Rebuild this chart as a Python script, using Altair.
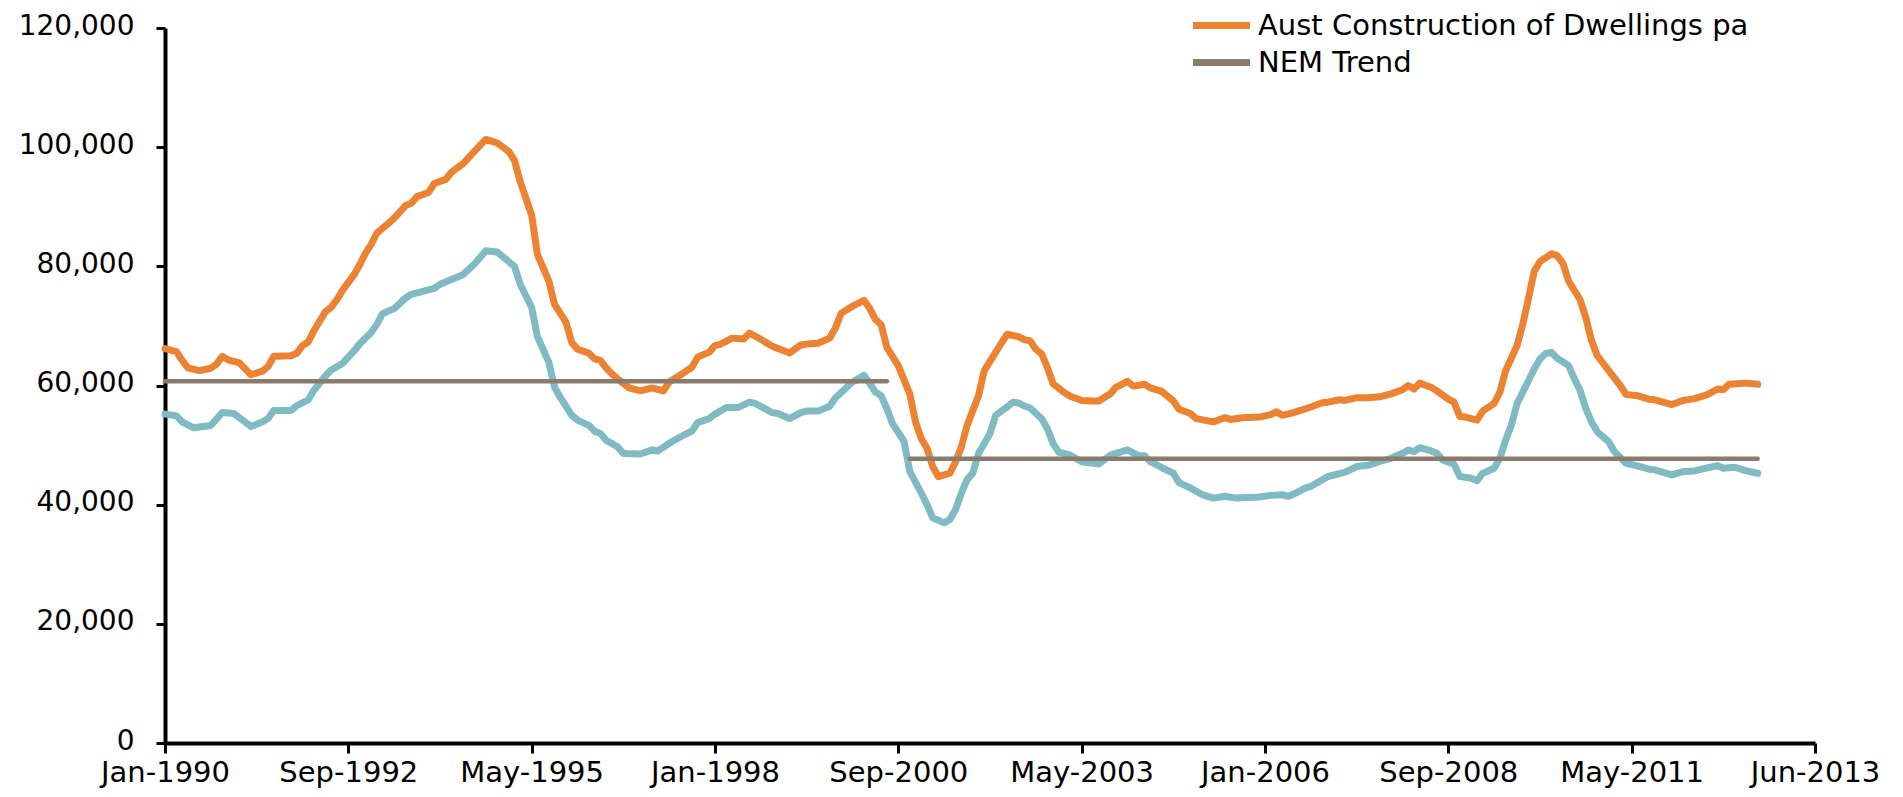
import altair as alt
import pandas as pd

# ---------------- data ----------------
SERIES_A = "Aust Construction of Dwellings pa"
SERIES_B = "Series 2"
SERIES_NEM = "NEM Trend"

TICK_MONTHS = [0, 32, 64, 96, 128, 160, 192, 224, 256, 288]
TICK_LABELS = ["Jan-1990", "Sep-1992", "May-1995", "Jan-1998", "Sep-2000",
               "May-2003", "Jan-2006", "Sep-2008", "May-2011", "Jun-2013"]

# month index (0 = Jan-1990)
ORANGE_MONTH = [0, 2, 3, 4, 6, 8, 9, 10, 11, 13, 14, 15, 17, 18, 19, 22, 23, 24, 25, 26,
                28, 29, 30, 31, 33, 34, 35, 36, 37, 39, 40, 42, 43, 44, 46, 47, 49, 50, 52, 54,
                56, 57, 58, 60, 61, 62, 64, 65, 67, 68, 70, 71, 72, 74, 75, 76, 77, 78, 79, 81,
                83, 85, 87, 88, 90, 92, 93, 95, 96, 97, 99, 101, 102, 103, 106, 107, 109, 111, 112, 114,
                116, 117, 118, 120, 122, 123, 124, 125, 126, 128, 130, 131, 132, 133, 134, 135, 137, 138, 139, 140,
                142, 143, 145, 146, 147, 149, 150, 151, 152, 153, 154, 155, 157, 158, 160, 162, 163, 165, 166, 168,
                169, 171, 172, 174, 175, 176, 177, 179, 180, 183, 185, 186, 188, 191, 193, 194, 195, 197, 200, 202,
                203, 205, 206, 208, 210, 212, 214, 216, 217, 218, 219, 221, 222, 224, 225, 226, 227, 229, 230, 232,
                233, 234, 236, 237, 238, 239, 240, 242, 243, 244, 245, 247, 248, 249, 250, 252, 254, 255, 257, 259,
                260, 263, 265, 267, 269, 271, 272, 273, 276, 278]
ORANGE_VALUE = [66200, 65700, 64200, 62950, 62500, 62900, 63600, 64900, 64300, 63800, 62800, 61800, 62400, 63200, 64900, 65000, 65400, 66700, 67300, 69200,
                72400, 73100, 74400, 76000, 78600, 80300, 82200, 83700, 85600, 87200, 88100, 90200, 90600, 91700, 92400, 93900, 94600, 95800, 97200, 99300,
                101300, 101000, 100700, 99300, 97800, 94200, 88600, 82000, 77500, 73600, 70600, 67200, 66100, 65400, 64450, 64200, 62950, 61950, 61100, 59600,
                59100, 59600, 59100, 60600, 61800, 63100, 64800, 65600, 66700, 66950, 67950, 67800, 68800, 68300, 66600, 66200, 65450, 66800, 66950, 67100,
                67950, 69600, 72100, 73300, 74300, 72950, 71100, 70200, 66400, 63300, 58600, 53900, 51100, 49450, 46400, 44700, 45300, 47200, 49700, 53300,
                58300, 62500, 65600, 67100, 68600, 68200, 67700, 67500, 66100, 65300, 63100, 60300, 58800, 58200, 57500, 57400, 57400, 58600, 59700, 60700,
                59900, 60200, 59600, 59000, 58200, 57400, 56000, 55300, 54450, 53900, 54600, 54300, 54600, 54700, 55100, 55600, 55000, 55450, 56400, 57100,
                57200, 57600, 57500, 57950, 57950, 58100, 58600, 59300, 60000, 59400, 60400, 59700, 59100, 57700, 57200, 54800, 54700, 54200, 55700, 57000,
                58900, 62500, 66700, 70300, 74700, 79200, 80800, 82100, 81800, 80500, 77500, 74400, 71400, 67500, 65000, 62500, 60000, 58500, 58300, 57700,
                57600, 56800, 57500, 57800, 58400, 59400, 59300, 60200, 60400, 60200]

TEAL_MONTH = [0, 2, 3, 5, 8, 10, 12, 13, 15, 17, 18, 19, 22, 23, 25, 26, 28, 29, 31, 33,
              34, 36, 37, 38, 40, 42, 43, 45, 47, 48, 50, 52, 54, 56, 58, 60, 61, 62, 64, 65,
              67, 68, 69, 70, 71, 72, 74, 75, 76, 77, 79, 80, 83, 85, 86, 88, 90, 92, 93, 95,
              96, 98, 100, 102, 103, 106, 107, 109, 111, 112, 114, 116, 117, 119, 120, 122, 123, 124, 125, 126,
              127, 129, 130, 132, 133, 134, 136, 137, 138, 139, 140, 141, 142, 144, 145, 147, 148, 149, 150, 151,
              153, 154, 155, 156, 158, 160, 162, 163, 165, 168, 170, 171, 172, 174, 176, 177, 179, 181, 183, 185,
              187, 191, 193, 195, 196, 197, 199, 200, 202, 203, 206, 208, 210, 212, 214, 216, 217, 218, 219, 221,
              222, 223, 225, 226, 228, 229, 230, 232, 233, 234, 235, 236, 238, 239, 240, 241, 242, 243, 245, 246,
              247, 248, 249, 250, 252, 253, 255, 257, 259, 260, 263, 265, 267, 269, 271, 272, 274, 276, 278]
TEAL_VALUE = [55200, 54900, 53900, 52900, 53300, 55450, 55300, 54600, 53100, 53900, 54450, 55800, 55800, 56600, 57600, 59200, 61600, 62600, 63700, 65800,
              67000, 68900, 70300, 72100, 72900, 74700, 75300, 75800, 76300, 77000, 77800, 78600, 80400, 82600, 82400, 80800, 80000, 77000, 73100, 68200,
              63900, 59700, 58000, 56500, 55000, 54200, 53300, 52300, 51950, 50800, 49700, 48600, 48500, 49200, 49000, 50300, 51400, 52400, 53800, 54450,
              55200, 56300, 56300, 57200, 57000, 55450, 55300, 54450, 55450, 55700, 55700, 56500, 57900, 59700, 60600, 61700, 60400, 58900, 58300, 56100,
              53600, 50600, 45600, 41950, 40000, 37800, 36950, 37500, 39200, 41950, 44200, 45300, 48600, 51950, 55000, 56400, 57200, 57050, 56560, 56230,
              54450, 52800, 50300, 48800, 48300, 47200, 46950, 46840, 48300, 49200, 48200, 48200, 47200, 46200, 45300, 43700, 42800, 41700, 41100, 41400,
              41100, 41300, 41560, 41670, 41390, 41780, 42780, 43060, 44170, 44730, 45450, 46390, 46600, 47250, 47780, 48620, 49170, 48900, 49560, 49010,
              48620, 47500, 46780, 44730, 44450, 44010, 45280, 46120, 47780, 50840, 53340, 56950, 60840, 62800, 64450, 65390, 65560, 64560, 63340, 61120,
              59170, 56120, 53890, 52230, 50560, 48900, 46950, 46500, 45950, 45840, 45000, 45560, 45670, 46120, 46560, 46120, 46280, 45670, 45280]

NEM_START = [0, 130]
NEM_END = [126, 278]
NEM_VALUE = [60700, 47700]

# ---------------- styling ----------------
ORANGE = "#EB8332"
TEAL = "#80BAC2"
BROWN = "#8B7B6C"
FONT = "DejaVu Sans"

df_a = pd.DataFrame({"month": ORANGE_MONTH, "value": ORANGE_VALUE, "series": SERIES_A})
df_b = pd.DataFrame({"month": TEAL_MONTH, "value": TEAL_VALUE, "series": SERIES_B})
nem_rows = []
for i, (s, e, v) in enumerate(zip(NEM_START, NEM_END, NEM_VALUE)):
    nem_rows.append({"month": s, "value": v, "series": SERIES_NEM, "seg": i})
    nem_rows.append({"month": e, "value": v, "series": SERIES_NEM, "seg": i})
df_nem = pd.DataFrame(nem_rows)

labels_js = "[" + ",".join("'" + l + "'" for l in TICK_LABELS) + "]"
months_js = "[" + ",".join(str(m) for m in TICK_MONTHS) + "]"

x_enc = alt.X(
    "month:Q",
    scale=alt.Scale(domain=[TICK_MONTHS[0], TICK_MONTHS[-1]], nice=False, zero=False),
    axis=alt.Axis(
        title=None, values=TICK_MONTHS,
        labelExpr=f"{labels_js}[indexof({months_js}, datum.value)]",
        grid=False, domainColor="black", domainWidth=4,
        tickColor="black", tickWidth=3, tickSize=10,
        labelFont=FONT, labelFontSize=29, labelColor="black", labelPadding=5,
        labelOverlap=False, labelFlush=False,
    ),
)
y_enc = alt.Y(
    "value:Q",
    scale=alt.Scale(domain=[0, 120000], nice=False),
    axis=alt.Axis(
        title=None, values=[0, 20000, 40000, 60000, 80000, 100000, 120000], format=",d",
        grid=False, domainColor="black", domainWidth=4,
        tickColor="black", tickWidth=3, tickSize=9,
        labelFont=FONT, labelFontSize=28, labelColor="black", labelPadding=22,
        labelOffset=-2,
    ),
)

color_enc = alt.Color(
    "series:N",
    scale=alt.Scale(domain=[SERIES_A, SERIES_NEM], range=[ORANGE, BROWN]),
    legend=alt.Legend(
        title=None, orient="none", legendX=1042, legendY=-17,
        symbolType="M-3,0H3", symbolSize=361, symbolStrokeWidth=7,
        labelFont=FONT, labelFontSize=29, labelColor="black",
        labelOffset=22, rowPadding=7, padding=0, labelLimit=800,
    ),
)

teal = alt.Chart(df_b).mark_line(color=TEAL, strokeWidth=7, strokeJoin="round", strokeCap="round").encode(
    x=x_enc, y=y_enc
)
orange = alt.Chart(df_a).mark_line(strokeWidth=7, strokeJoin="round", strokeCap="round").encode(
    x=x_enc, y=y_enc, color=color_enc
)
nem = alt.Chart(df_nem).mark_line(strokeWidth=4.5, strokeCap="round").encode(
    x=x_enc, y=y_enc, color=color_enc, detail="seg:N"
)

chart = (
    alt.layer(teal, orange, nem)
    .properties(
        width=1650, height=715,
        padding={"left": 157, "top": 20, "right": 75, "bottom": 46},
        autosize=alt.AutoSizeParams(type="none"),
    )
    .configure_view(stroke=None)
)

chart.save("out.html", embed_options={"renderer": "svg", "actions": False})
